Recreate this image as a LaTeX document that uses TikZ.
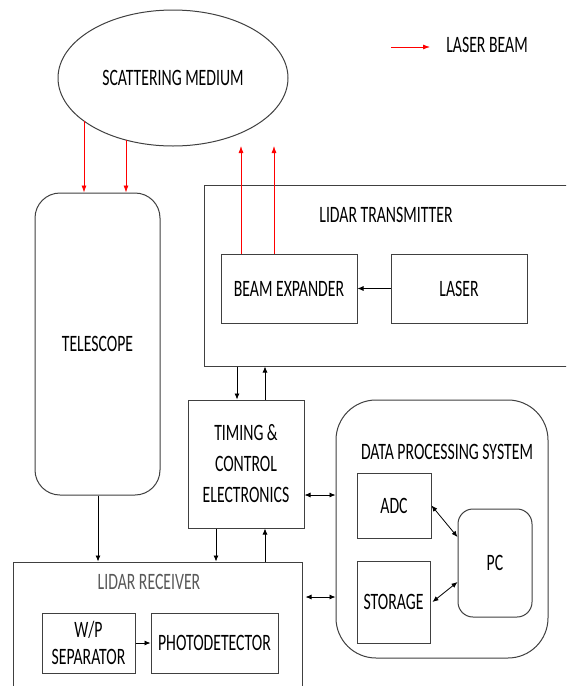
\documentclass[tikz,border=0pt]{standalone}
\usepackage{fontspec}
\setmainfont{Carlito}[FakeStretch=0.67]
\usetikzlibrary{shapes.geometric,arrows.meta,calc}
\definecolor{ln}{HTML}{404040}
\tikzset{
  every node/.style={font=\fontsize{23.5}{31}\selectfont, text=black},
  box/.style={draw=ln, line width=1pt, rectangle, inner sep=0pt, align=center},
  rbox/.style={box, rounded corners=#1},
  arr/.style={draw=black, line width=0.8pt, -{Latex[length=6pt,width=5pt]}},
  darr/.style={draw=black, line width=0.8pt, {Latex[length=6pt,width=5pt]}-{Latex[length=6pt,width=5pt]}},
  beam/.style={draw=red, line width=0.8pt, -{Latex[length=7pt,width=5pt]}},
  lbl/.style={inner sep=0pt}
}
\begin{document}
\begin{tikzpicture}[x=1pt,y=-1pt]
\useasboundingbox (0,0) rectangle (566,686);
\clip (0,0) rectangle (566,686);
\fill[white] (0,0) rectangle (566,686);

% scattering medium
\node[draw=ln, line width=1pt, ellipse, minimum width=230pt, minimum height=136pt, inner sep=0pt] (med) at (173,78) {SCATTERING MEDIUM};

% legend
\coordinate (lg1) at (391,47);
\coordinate (lg2) at (430,47);
\draw[beam] (lg1) -- (lg2);
\node[lbl] (lgt) at (487,45) {LASER BEAM};

% telescope
\node[rbox=25pt, minimum width=125pt, minimum height=302pt] (tel) at (97.5,344) {TELESCOPE};

% transmitter
\node[box, minimum width=370pt, minimum height=181pt] (tx) at (389,275.5) {};
\node[lbl] (txl) at (386,215) {LIDAR TRANSMITTER};
\node[box, minimum width=136pt, minimum height=69pt] (be) at (289,288.5) {BEAM EXPANDER};
\node[box, minimum width=136pt, minimum height=69pt] (laser) at (459,288.5) {LASER};
\draw[arr] (laser.west) -- (be.east);

% beams
\coordinate (m1) at (84,121);
\coordinate (m2) at (126,140);
\draw[beam] (m1) -- (m1 |- tel.north);
\draw[beam] (m2) -- (m2 |- tel.north);
\coordinate (u1) at (241,146);
\coordinate (u2) at (274,146);
\draw[beam] (u1 |- be.north) -- (u1);
\draw[beam] (u2 |- be.north) -- (u2);

% timing & control
\node[box, minimum width=116pt, minimum height=128pt] (tce) at (246,464) {TIMING \&\\CONTROL\\ELECTRONICS};

% data processing system
\node[rbox=40pt, minimum width=212pt, minimum height=258pt] (dps) at (442,529) {};
\node[lbl] (dpsl) at (447,452) {DATA PROCESSING SYSTEM};
\node[box, minimum width=74pt, minimum height=65pt] (adc) at (394,505.5) {ADC};
\node[box, minimum width=73pt, minimum height=82pt] (sto) at (393.5,602) {STORAGE};
\node[rbox=15pt, minimum width=74pt, minimum height=108pt] (pc) at (495,563) {PC};
\draw[darr] (adc.east) -- ([yshift=26pt]pc.west);
\draw[darr] ([xshift=2pt]sto.east) -- ([yshift=-19pt]pc.west);

% receiver
\node[box, minimum width=289pt, minimum height=140pt] (rx) at (157.5,632) {};
\node[lbl, text=black!65] (rxl) at (149,582) {LIDAR RECEIVER};
\node[box, minimum width=93pt, minimum height=60pt, font=\fontsize{23.5}{27}\selectfont] (wp) at (88.5,643) {W/P\\SEPARATOR};
\node[box, minimum width=127pt, minimum height=60pt] (pd) at (214.5,643) {PHOTODETECTOR};
\draw[arr] (wp.east) -- (pd.west);

% connections
\coordinate (c1) at (237,0);
\coordinate (c2) at (265,0);
\coordinate (c3) at (216,0);
\coordinate (c4) at (98,0);
\draw[arr] (c1 |- tx.south) -- (c1 |- tce.north);
\draw[arr] (c2 |- tce.north) -- (c2 |- tx.south);
\draw[arr] (c3 |- tce.south) -- (c3 |- rx.north);
\draw[arr] (c2 |- rx.north) -- (c2 |- tce.south);
\draw[arr] (c4 |- tel.south) -- (c4 |- rx.north);

\coordinate (h1) at (0,495);
\coordinate (h2) at (0,597);
\draw[darr] (tce.east |- h1) -- (dps.west |- h1);
\draw[darr] ([xshift=3pt]rx.east |- h2) -- (dps.west |- h2);
\end{tikzpicture}
\end{document}
